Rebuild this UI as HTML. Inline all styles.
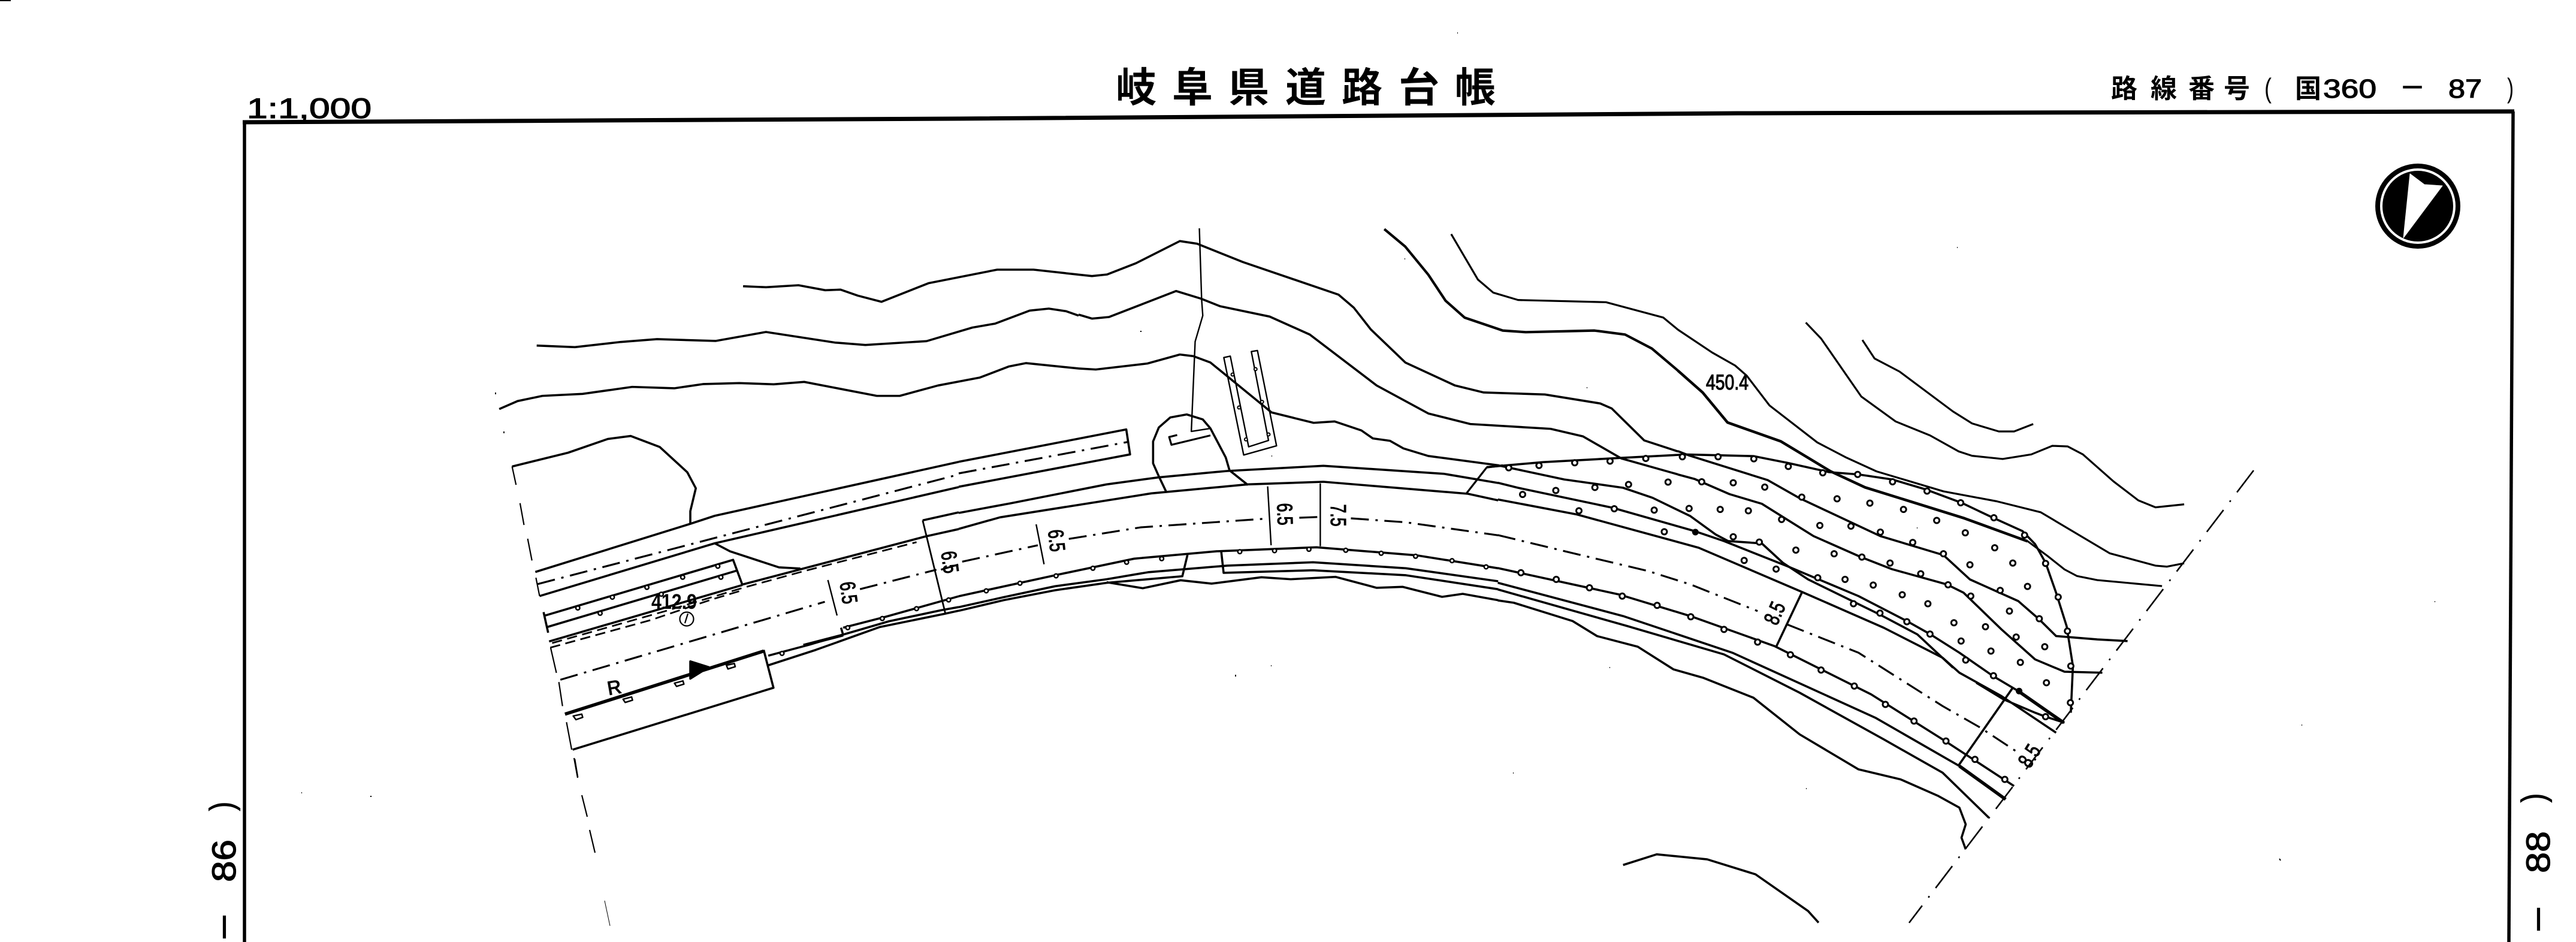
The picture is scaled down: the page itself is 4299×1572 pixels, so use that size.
<!DOCTYPE html>
<html lang="ja"><head><meta charset="utf-8"><title>岐阜県道路台帳</title>
<style>
html,body{margin:0;padding:0;background:#fff;width:4299px;height:1572px;overflow:hidden}
svg{display:block}
path,polyline,line,polygon,ellipse{vector-effect:non-scaling-stroke;fill:none;stroke:#000;stroke-width:3.6;stroke-linejoin:round}
.t{stroke-width:2.4}.k{stroke-width:5.5}
.dd{stroke-width:3.2;stroke-dasharray:30 11 4 11}
.da{stroke-width:2.8;stroke-dasharray:17 9}
.b{stroke-width:2.2}
.dr{stroke-width:2.6;stroke-dasharray:46 17 3 17}
.o{stroke:#000;stroke-width:11;stroke-linecap:round}
.i{stroke:#fff;stroke-width:5;stroke-linecap:round}
.sm{stroke:#000;stroke-width:9;stroke-linecap:round}
.si{stroke:#fff;stroke-width:4;stroke-linecap:round}
.s{stroke-width:2}
#hd{stroke:inherit;stroke-width:inherit;stroke-linecap:inherit}
text{font-family:"Liberation Sans","Noto Sans CJK JP",sans-serif;fill:#000}
.j{font-family:"Noto Sans CJK JP","Liberation Sans",sans-serif;font-weight:700}
.h{stroke:#000;stroke-width:1.2}
</style></head><body>
<svg xmlns="http://www.w3.org/2000/svg" width="4299" height="1572" viewBox="0 0 4299 1572">
<rect width="4299" height="1572" fill="#fff"/>
<rect x="0" y="0" width="18" height="2" fill="#000"/>
<!-- frame -->
<polyline points="405,204 1600,198 2900,189 4196,186" style="stroke-width:7"/>
<polyline points="408,202 408,1572" style="stroke-width:5.5"/>
<polyline points="4194,186 4187,1572" style="stroke-width:5.5"/>
<!-- titles -->
<text class="h" x="412" y="197" font-size="47" textLength="208" lengthAdjust="spacingAndGlyphs">1:1,000</text>
<text class="j" font-size="68" y="170" x="1862 1956 2050 2145 2239 2334 2428">岐阜県道路台帳</text>
<text class="j" font-size="44" y="163" x="3523 3589 3652 3711">路線番号</text>
<text x="3779" y="163" font-size="46" textLength="12" lengthAdjust="spacingAndGlyphs">(</text>
<text class="j" font-size="44" y="163" x="3830">国</text>
<text class="h" x="3877" y="163" font-size="44" textLength="89" lengthAdjust="spacingAndGlyphs">360</text>
<text class="h" x="4008" y="160" font-size="44" textLength="36" lengthAdjust="spacingAndGlyphs">−</text>
<text class="h" x="4086" y="163" font-size="44" textLength="56" lengthAdjust="spacingAndGlyphs">87</text>
<text x="4184" y="163" font-size="46" textLength="11" lengthAdjust="spacingAndGlyphs">)</text>
<!-- side labels -->
<g font-size="56">
<text class="h" transform="translate(393,1472) rotate(-90)" textLength="71" lengthAdjust="spacingAndGlyphs">86</text>
<text class="h" transform="translate(389,1353) rotate(-90)" textLength="15" lengthAdjust="spacingAndGlyphs">)</text>
<text class="h" transform="translate(393,1569) rotate(-90)" textLength="44" lengthAdjust="spacingAndGlyphs">−</text>
<text class="h" transform="translate(4255,1457) rotate(-90)" textLength="70" lengthAdjust="spacingAndGlyphs">88</text>
<text class="h" transform="translate(4247,1339) rotate(-90)" textLength="15" lengthAdjust="spacingAndGlyphs">)</text>
<text class="h" transform="translate(4255,1556) rotate(-90)" textLength="44" lengthAdjust="spacingAndGlyphs">−</text>
</g>
<!-- compass -->
<circle cx="4035" cy="344" r="71" fill="#000"/>
<circle cx="4035" cy="344" r="63" fill="#fff"/>
<circle cx="4035" cy="344" r="59" fill="#000"/>
<polygon points="4022,290 4046,308 4076,310 4011,397" style="fill:#fff;stroke:#fff;stroke-width:1"/>

<!-- boundaries -->
<path class="b" d="M958 1265L964 1298M971 1327L980 1363M984 1385L993 1423"/>
<path d="M1009 1503L1018 1545" style="stroke-width:1"/>
<line class="dr" x1="3761" y1="785" x2="3186" y2="1540"/>
<!-- specks -->
<path class="s" d="M3266 413h1M2432 55h1M2344 432h1M2062 1126v3M2121 1111h1M4063 1004h1M3841 1210h1M3804 1433l2 3M2525 1290h1M2686 1114h1M3014 1316h1M503 1323h1M619 1328v2M841 720v3M827 655v3M3199 881h1M1904 552v2M2648 647h1M2122 761h1"/>

<!-- Z9 contours -->
<g transform="translate(800 350) scale(.6378 .3333)">
<polyline points="690,383 750,388 835,378 905,403 945,400 990,430 1052,461 1175,368 1355,300 1450,300 1568,325"/>
<polyline points="150,680 250,688 370,662 465,648 618,657 750,612 930,665 1010,677 1170,658 1290,590 1350,570 1440,505 1490,495 1535,508 1568,530"/>
<polyline points="52,998 100,958 165,932 270,922 400,887 510,894 585,873 680,868 770,874 850,862 1040,932 1100,932 1200,880 1310,840 1385,785 1430,768 1568,795"/>
</g>
<!-- Z10 -->
<g transform="translate(1800 350) scale(.6378 .3333)">
<polyline points="0,325 35,332 75,324 150,268 265,157 310,170 430,262 680,425 720,490 765,600 855,765 985,880 1060,915 1220,925 1365,970 1395,995 1480,1155 1568,1210"/>
<polyline points="0,525 35,545 80,537 255,407 320,445 370,483 500,535 605,625 780,880 915,1020 1025,1073 1235,1097 1320,1135 1420,1245 1568,1325"/>
<polyline points="0,795 45,800 180,770 265,725 300,733 345,765 470,960 505,1015 615,1067 670,1060 740,1105 770,1145 815,1157 850,1195 915,1233 1100,1280"/>
<polyline points="800,97 855,185 915,325 960,455 1010,540 1110,605 1170,613 1350,605 1430,625 1500,695 1568,805" style="stroke-width:4.2"/>
<polyline class="t" points="975,122 1045,350 1085,415 1150,452 1380,463 1530,540 1568,600" style="stroke-width:3.2"/>
<polyline class="t" points="316,93 322,450 325,530 305,660 295,1110 345,1095"/>
<polyline points="230,1415 210,1335 195,1270 195,1160 210,1090 240,1040 283,1025 325,1050 345,1095 385,1240 395,1305 443,1378"/>
<polyline class="t" points="258,1128 237,1138 243,1177 345,1130" style="stroke-width:3.2"/>
<polygon class="t" points="380,740 432,1228 518,1182 468,705 452,710 497,1155 445,1187 397,733"/>
<path class="sm" style="stroke-width:7" d="M403 825h.01M420 990h.01M438 1150h.01M463 798h.01M480 962h.01M497 1125h.01"/>
<path class="si" style="stroke-width:3" d="M403 825h.01M420 990h.01M438 1150h.01M463 798h.01M480 962h.01M497 1125h.01"/>
<polyline class="t" points="1068,1290 1015,1420" style="stroke-width:3.2"/>
<polyline points="1068,1290 1110,1280"/>
</g>
<!-- Z11 upper right contours -->
<g transform="translate(2800 450) scale(.6378 .3333)">
<polyline points="0,505 65,615 130,765 270,860 400,1010 490,1090 750,1245 915,1360" style="stroke-width:4.5"/>
<polyline points="0,300 90,415 150,480 180,530 240,680 365,865 440,940 520,1010 695,1110 835,1160 950,1215 1130,1420 1250,1482 1280,1487 1325,1470" style="stroke-width:3.2"/>
<polyline points="335,265 375,345 480,635 570,760 660,830 735,910 770,932 850,948 925,925 980,882 1020,885 1060,925 1140,1060 1205,1155 1250,1190 1325,1175" style="stroke-width:3.2"/>
<polyline points="483,352 515,445 580,510 720,710 770,770 840,810 880,810 930,773" style="stroke-width:3.2"/>
</g>
<text class="h" x="2847" y="650" font-size="35" textLength="71" lengthAdjust="spacingAndGlyphs">450.4</text>

<!-- Z4 left road -->
<g transform="translate(800 700) scale(.5102 .3827)">
<path class="b" d="M107 205L120 285M133 365L146 460M158 520L172 615M185 690L197 770M233 995L252 1105M260 1145L272 1250M285 1320L302 1440M312 1480L322 1560"/>
<polyline points="107,205 290,145 420,85 495,72 590,120 680,230 708,300 690,400 690,455"/>
<polyline points="183,665 690,455 770,420 1568,185"/>
<polyline points="197,770 770,540 1568,295"/>
<line class="dd" x1="190" y1="718" x2="1568" y2="240"/>
<polyline points="770,540 820,575 980,645 1050,650"/>
<polyline points="215,855 830,612 860,720 1060,650 1460,510 1568,478"/>
<polyline points="222,905 840,660"/>
<polyline points="228,968 860,722"/>
<line x1="210" y1="840" x2="225" y2="930"/>
<polyline class="da" points="238,975 610,835 860,735 1060,662 1430,535"/>
<polyline class="da" points="232,995 560,875 760,785 860,745"/>
<line class="dd" x1="265" y1="1135" x2="1130" y2="795"/>
<line class="t" x1="1140" y1="700" x2="1170" y2="855"/>
<line class="dd" x1="1245" y1="740" x2="1495" y2="655"/>
<line class="dd" x1="1510" y1="655" x2="1568" y2="632"/>
<polyline points="1450,440 1568,405"/>
<polyline class="t" points="1450,440 1525,850" style="stroke-width:2.8"/>
<polyline points="280,1285 930,1010" style="stroke-width:5.5"/>
<polyline points="930,1005 962,1170 305,1440"/>
<polygon points="690,1055 690,1130 750,1080" style="fill:#000"/>
<polyline points="945,1030 1080,982 1190,938 1340,880 1510,832 1568,818"/>
<polyline points="945,1072 1100,1005 1310,905 1520,848 1568,834"/>
<polyline points="1183,908 1190,940"/>
<polyline points="1190,908 1330,860 1568,771"/>
<polyline points="1060,985 1190,940" style="stroke-width:5"/>
<path d="M307 1293l28 -8l3 14l-22 10zM470 1220l28 -10l3 14l-24 10zM638 1150l28 -10l3 14l-24 10zM808 1072l26 -8l3 14l-24 10z" style="stroke-width:2.5"/>
<path class="sm" d="M322 822h.01M435 775h.01M548 732h.01M665 688h.01M780 640h.01M395 845h.01M595 762h.01M790 688h.01M990 1020h.01M1205 908h.01M1318 868h.01M1430 825h.01M1535 787h.01"/>
<path class="si" d="M322 822h.01M435 775h.01M548 732h.01M665 688h.01M780 640h.01M395 845h.01M595 762h.01M790 688h.01M990 1020h.01M1205 908h.01M1318 868h.01M1430 825h.01M1535 787h.01"/>
</g>
<text class="h" transform="translate(1027,1158) rotate(-10)" text-anchor="middle" font-size="32">R</text>
<text x="1087" y="1016" font-size="35" font-weight="700" textLength="76" lengthAdjust="spacingAndGlyphs">412.9</text>
<circle cx="1146" cy="1033" r="11.5" fill="none" stroke="#000" stroke-width="2.2"/>
<line x1="1148" y1="1024" x2="1143" y2="1040" style="stroke-width:2.2"/>

<!-- Z5 mid road -->
<g transform="translate(1600 700) scale(.5741 .3333)">
<polyline points="0,212 487,50 498,175 0,337"/>
<line class="dd" x1="0" y1="270" x2="490" y2="113"/>
<polyline points="0,468 150,420 430,325 580,290 780,258 1060,232 1410,272 1568,318"/>
<polyline points="0,548 120,490 560,370 840,325 1060,312 1480,372 1568,405"/>
<polyline class="dd" points="10,712 230,630"/>
<polyline class="dd" points="320,598 530,540 890,497"/>
<line class="t" x1="225" y1="525" x2="248" y2="725"/>
<line class="t" x1="898" y1="335" x2="908" y2="630"/>
<line class="t" x1="1051" y1="320" x2="1051" y2="635"/>
<line class="dd" x1="990" y1="492" x2="1050" y2="488"/>
<polyline class="dd" points="1140,495 1300,515 1568,580"/>
<polyline points="0,885 280,780 510,697 750,660 1040,640 1330,680 1568,745"/>
<polyline points="0,940 130,890 280,835 430,800 550,765 780,732 1030,715 1300,745 1568,810"/>
<polyline points="763,660 770,768 1030,755 1300,780 1568,850"/>
<polyline points="665,678 650,785 430,818 280,855 130,905 0,958"/>
<polyline points="430,815 535,845 645,805 735,822 880,790 965,800 1095,788 1215,843 1290,838 1405,888 1465,873 1568,905"/>
<path class="sm" d="M80 858h.01M178 820h.01M283 783h.01M390 745h.01M488 715h.01M590 697h.01M817 662h.01M918 657h.01M1018 650h.01M1125 655h.01M1228 670h.01M1328 685h.01M1434 707h.01M1533 738h.01"/>
<path class="si" d="M80 858h.01M178 820h.01M283 783h.01M390 745h.01M488 715h.01M590 697h.01M817 662h.01M918 657h.01M1018 650h.01M1125 655h.01M1228 670h.01M1328 685h.01M1434 707h.01M1533 738h.01"/>
</g>
<g font-size="36">
<text class="h" transform="translate(1417,989) rotate(82)" text-anchor="middle" dy="13" textLength="37" lengthAdjust="spacingAndGlyphs">6.5</text>
<text class="h" transform="translate(1586,938) rotate(82)" text-anchor="middle" dy="13" textLength="37" lengthAdjust="spacingAndGlyphs">6.5</text>
<text class="h" transform="translate(1764,902) rotate(84)" text-anchor="middle" dy="13" textLength="37" lengthAdjust="spacingAndGlyphs">6.5</text>
<text class="h" transform="translate(2145,858) rotate(88)" text-anchor="middle" dy="13" textLength="37" lengthAdjust="spacingAndGlyphs">6.5</text>
<text class="h" transform="translate(2234,860) rotate(90)" text-anchor="middle" dy="13" textLength="37" lengthAdjust="spacingAndGlyphs">7.5</text>
<text class="h" transform="translate(2961,1023) rotate(-66)" text-anchor="middle" dy="13" textLength="37" lengthAdjust="spacingAndGlyphs">8.5</text>
<text class="h" transform="translate(3386,1261) rotate(-58)" text-anchor="middle" dy="13" textLength="37" lengthAdjust="spacingAndGlyphs">8.5</text>
</g>

<!-- Z6 right road and hatching -->
<g transform="translate(2400 700) scale(.7016 .5561)">
<polyline points="144,138 300,180 440,205 510,235 600,290 660,345 690,365 770,372 820,430 880,480 1050,585 1140,645 1225,745"/>
<polyline points="142,190 190,205 415,265 610,335 680,365 830,440 1000,530 1115,605 1170,644 1240,700 1320,770 1380,815"/>
<polyline points="1380,815 1488,910" class="k"/>
<polyline points="142,240 330,285 620,385 870,520 1060,625 1200,715 1240,760 1340,830 1470,940"/>
<polyline points="1280,790 1345,840 1420,880 1445,892 1490,910"/>
<polyline points="115,143 250,128 440,115 590,105 750,110 830,130 930,158 1000,165 1080,180 1160,210 1245,250 1320,295 1390,335 1420,374 1445,430 1470,520 1495,620 1510,740 1505,880"/>
<polyline points="1402,365 1450,410 1490,450 1520,470 1568,482 1722,500" style="stroke-width:3.2"/>
<polyline points="570,95 597,108 784,182 861,237 1052,350 1202,407 1265,480 1380,545 1430,600 1470,650 1568,660 1640,665"/>
<polyline points="570,165 611,179 693,224 770,253 893,350 1006,413 1079,449 1210,495 1250,520 1340,630 1420,720 1490,757 1580,760"/>
<polyline class="dd" points="142,347 300,395 500,455 600,495 760,575"/>
<polyline class="dd" points="830,615 1000,700 1100,780 1200,860 1290,925 1380,1000"/>
<line x1="865" y1="520" x2="805" y2="680"/>
<line x1="1367" y1="805" x2="1237" y2="1040"/>
<polyline points="142,446 430,525 600,590 800,680 1030,825 1200,960 1370,1100"/>
<polyline points="142,490 440,590 700,700 1040,895 1240,1040"/>
<polyline class="k" points="1240,1040 1350,1140"/>
<polyline points="142,510 450,620 680,705 860,820 1060,960 1200,1060 1310,1195"/>
<polyline points="142,543 180,550 320,605 378,650 475,682 560,750 630,775 750,835 860,945 1000,1050 1100,1080 1190,1130 1240,1165 1255,1215 1245,1255 1255,1290"/>
<polyline points="440,1337 520,1305 640,1320 755,1365 880,1475 905,1510"/>
<defs>
<path id="hd" d="M197 460h.01M281 480h.01M360 505h.01M438 530h.01M521 558h.01M601 592h.01M680 630h.01M760 668h.01M838 706h.01M911 752h.01M990 800h.01M1064 855h.01M1132 905h.01M1208 965h.01M1277 1020h.01M1348 1080h.01M168 145h.01M240 138h.01M325 130h.01M409 125h.01M494 117h.01M581 112h.01M666 112h.01M751 118h.01M833 141h.01M915 160h.01M998 165h.01M1081 187h.01M1163 215h.01M1243 250h.01M1322 295h.01M1395 347h.01M1445 432h.01M1475 533h.01M1497 635h.01M1505 740h.01M1504 850h.01M201 225h.01M280 213h.01M373 204h.01M453 195h.01M547 188h.01M627 187h.01M702 190h.01M777 203h.01M865 233h.01M949 238h.01M1027 251h.01M1107 270h.01M1186 303h.01M1254 340h.01M1324 385h.01M1367 431h.01M1402 501h.01M335 274h.01M419 268h.01M514 272h.01M597 267h.01M671 270h.01M738 274h.01M817 300h.01M908 318h.01M982 320h.01M1052 338h.01M1129 369h.01M1202 403h.01M1265 436h.01M1337 513h.01M1430 598h.01M1359 575h.01M538 337h.01M702 352h.01M764 368h.01M851 392h.01M942 403h.01M1008 413h.01M1075 431h.01M1148 463h.01M1213 496h.01M1267 530h.01M1443 682h.01M1375 653h.01M728 423h.01M804 449h.01M903 475h.01M968 480h.01M1035 497h.01M1104 526h.01M1165 553h.01M1227 610h.01M1302 622h.01M988 553h.01M1051 581h.01M1115 607h.01M1170 644h.01M1244 665h.01M1315 695h.01M1385 729h.01M1255 722h.01M1321 769h.01M1447 790h.01M1445 892h.01"/>
</defs>
<use href="#hd" class="o" style="stroke-width:12"/>
<use href="#hd" class="i" style="stroke-width:6"/>
<path class="o" d="M612 338h.01M1382 815h.01"/>
</g>
</svg>
</body></html>
